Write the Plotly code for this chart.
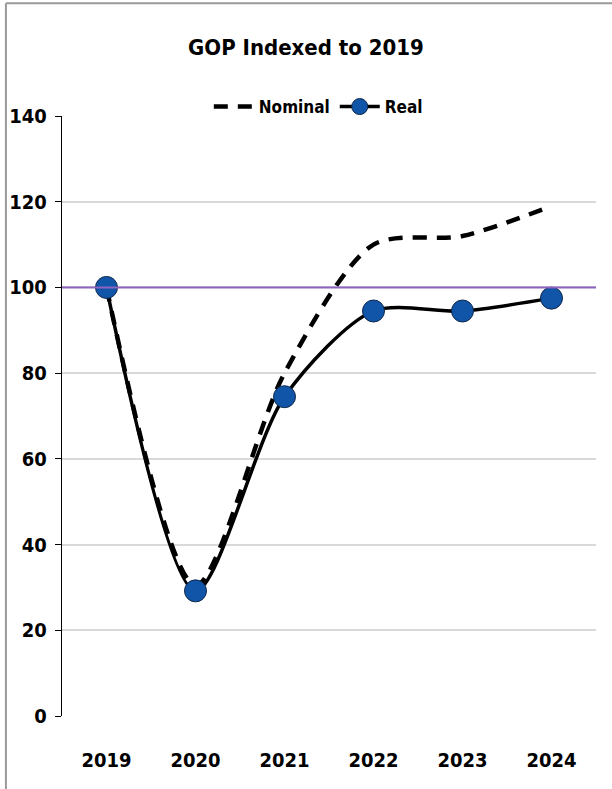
import plotly.graph_objects as go

years = ["2019", "2020", "2021", "2022", "2023", "2024"]
nominal = [100, 30.5, 80, 110, 112, 119]
real = [100, 29.2, 74.5, 94.5, 94.5, 97.5]
baseline = 100
y_ticks = [0, 20, 40, 60, 80, 100, 120, 140]

FONT = "DejaVu Sans Condensed, Liberation Sans Narrow, Arial Narrow, sans-serif"

fig = go.Figure()

# horizontal reference line at the 2019 level, on a hidden full-width axis
fig.add_trace(go.Scatter(
    x=[0, 1], y=[baseline, baseline], xaxis="x2", mode="lines",
    line=dict(color="#8e62bf", width=2), showlegend=False, hoverinfo="skip",
))
fig.add_trace(go.Scatter(
    x=years, y=nominal, name="<b>Nominal</b>", mode="lines",
    line=dict(color="black", width=4.5, dash="14px,10px", shape="spline", smoothing=0.8),
))
fig.add_trace(go.Scatter(
    x=years, y=real, name="<b>Real</b>", mode="lines+markers",
    line=dict(color="black", width=3.5, shape="spline", smoothing=0.8),
    marker=dict(size=22, color="#1155a8", line=dict(color="#10284a", width=1)),
))

# outer frame (left and top edges)
fig.add_shape(type="line", xref="paper", yref="paper", x0=-0.105, x1=-0.105,
              y0=-0.13, y1=1.188, line=dict(color="#9a9a9a", width=2))
fig.add_shape(type="line", xref="paper", yref="paper", x0=-0.105, x1=1.03,
              y0=1.188, y1=1.188, line=dict(color="#9a9a9a", width=2))

fig.update_layout(
    width=612, height=789,
    margin=dict(l=62, r=16, t=116, b=73, autoexpand=False),
    paper_bgcolor="white", plot_bgcolor="white",
    font=dict(family=FONT, color="black"),
    title=dict(text="<b>GOP Indexed to 2019</b>", x=0.5, xanchor="center",
               y=1 - 47 / 789, yanchor="middle", font=dict(size=22, family=FONT)),
    legend=dict(orientation="h", x=0.48, xanchor="center", y=1.015, yanchor="middle",
                font=dict(size=17, family=FONT), bgcolor="rgba(0,0,0,0)",
                itemwidth=40, tracegroupgap=0),
    showlegend=True,
    xaxis=dict(
        type="category", range=[-0.5, len(years) - 0.5],
        showgrid=False, showline=False, zeroline=False, automargin=False,
        tickvals=years, ticktext=[f"<b>{y}</b>" for y in years],
        tickfont=dict(size=20, family=FONT), ticks="", ticklabelstandoff=30,
    ),
    xaxis2=dict(overlaying="x", range=[0, 1], visible=False, fixedrange=True),
    yaxis=dict(
        range=[0, 140], tickvals=y_ticks, ticktext=[f"<b>{v}</b>" for v in y_ticks],
        showgrid=True, gridcolor="#d9d9d9", gridwidth=1.5, zeroline=False,
        showline=True, linecolor="black", linewidth=1.2, automargin=False,
        ticks="outside", ticklen=6, tickcolor="black",
        tickfont=dict(size=20, family=FONT), ticklabelstandoff=4,
    ),
)

fig.write_html("out.html")
